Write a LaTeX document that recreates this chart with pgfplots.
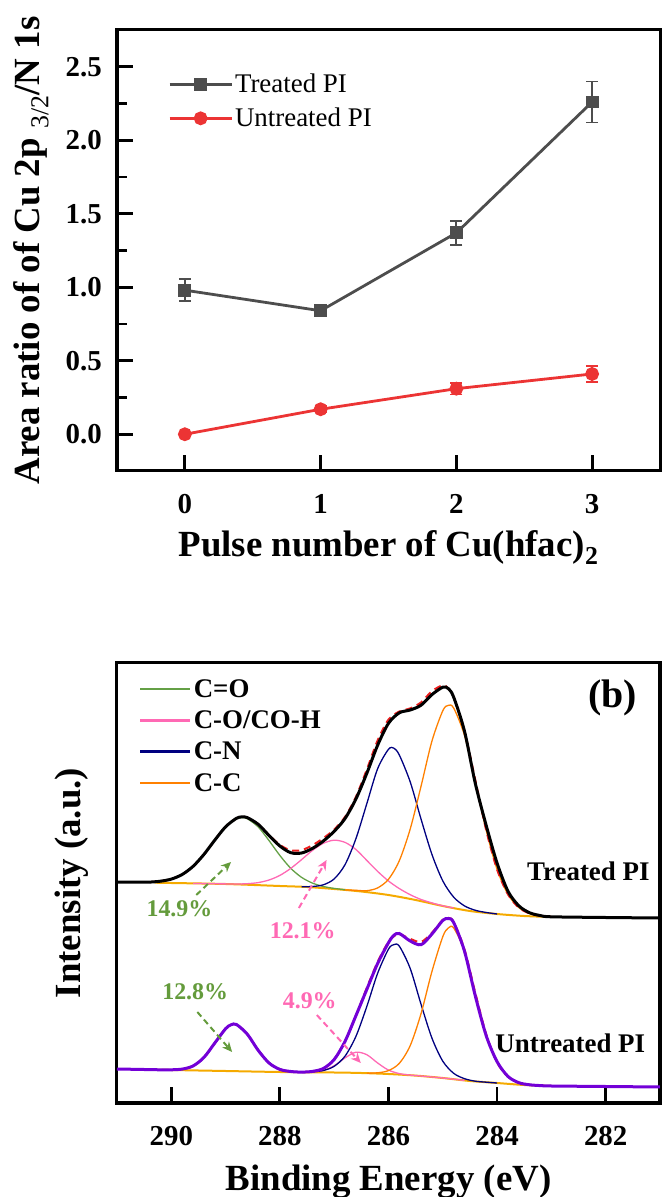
\documentclass[border=0pt]{standalone}
\usepackage{fontspec}
\setmainfont{Liberation Serif}
\usepackage{pgfplots}
\pgfplotsset{compat=1.18}
\usetikzlibrary{arrows.meta}

\definecolor{tgray}{RGB}{77,77,77}
\definecolor{ured}{RGB}{236,52,52}
\definecolor{cgreen}{RGB}{100,160,70}
\definecolor{tgreen}{RGB}{100,155,60}
\definecolor{cpink}{RGB}{255,105,180}
\definecolor{cnavy}{RGB}{0,0,128}
\definecolor{corange}{RGB}{255,128,0}
\definecolor{cbg}{RGB}{245,170,0}
\definecolor{cpurple}{RGB}{115,0,215}
\definecolor{cfit}{RGB}{235,30,30}

\newcommand{\labfont}{\fontsize{37}{40}\selectfont\bfseries}
\newcommand{\tickfont}{\fontsize{29}{29}\selectfont\bfseries}

\pgfplotsset{
  panel/.style={
    scale only axis, width=543bp,
    tick align=inside, xtick pos=left, ytick pos=left,
    major tick length=16bp, minor tick length=10bp,
    tick style={line width=2.8bp, black},
    axis line style={line width=3bp},
    /pgf/number format/assume math mode=true,
    ticklabel style={font=\tickfont},
    xticklabel style={inner sep=0pt, anchor=north, yshift=-23bp},
    label style={font=\labfont},
  }
}

\begin{document}
\begin{tikzpicture}
\path[use as bounding box] (0,0) rectangle (662bp,1197bp);

% ---------- top: area ratio ----------
\begin{axis}[
  panel,
  at={(117bp,726bp)}, anchor=south west, height=441bp,
  xmin=-0.5, xmax=3.5, ymin=-0.25, ymax=2.75,
  xtick={0,1,2,3}, ytick={0,0.5,1,1.5,2,2.5},
  minor ytick={0.25,0.75,1.25,1.75,2.25},
  yticklabel style={/pgf/number format/.cd, fixed, fixed zerofill, precision=1,
    /tikz/.cd, inner sep=0pt, anchor=east, xshift=-15bp},
  xlabel={Pulse number of Cu(hfac)\textsubscript{2}},
  ylabel={Area ratio of of Cu 2p {\mdseries\textsubscript{3/2}}/N 1s},
  xlabel style={at={(axis description cs:0.5,-0.193)}, anchor=base},
  ylabel style={at={(axis description cs:-0.142,0.5)}, anchor=base},
  legend style={at={(axis description cs:0.094,0.905)}, anchor=north west,
    draw=none, fill=none, inner sep=0pt, row sep=10bp,
    font=\fontsize{27}{28}\selectfont,
    nodes={inner sep=2bp}},
  legend cell align=left,
  legend image code/.code={\draw[mark repeat=2,mark phase=2,#1]
    plot coordinates {(0bp,0bp) (31bp,0bp) (62bp,0bp)};},
]
\addplot[color=tgray, line width=2.8bp, mark=square*, mark size=5bp,
  error bars/.cd, y dir=both, y explicit,
  error bar style={line width=1.8bp},
  error mark options={rotate=90, mark size=6bp, line width=1.8bp}]
  coordinates {(0,0.98) +- (0,0.075) (1,0.84) +- (0,0.035)
               (2,1.37) +- (0,0.08) (3,2.26) +- (0,0.14)};
\addplot[color=ured, line width=2.8bp, mark=*, mark size=5.5bp,
  error bars/.cd, y dir=both, y explicit,
  error bar style={line width=1.8bp},
  error mark options={rotate=90, mark size=6bp, line width=1.8bp}]
  coordinates {(0,0.0) +- (0,0.005) (1,0.17) +- (0,0.02)
               (2,0.31) +- (0,0.04) (3,0.41) +- (0,0.055)};
\legend{Treated PI, Untreated PI}
\end{axis}

% ---------- bottom: C 1s spectra ----------
\begin{axis}[
  panel,
  at={(117bp,94bp)}, anchor=south west, height=440bp,
  x dir=reverse, xmin=281, xmax=291, ymin=0, ymax=440,
  xtick={282,284,286,288,290}, ytick=\empty,
  xlabel={Binding Energy (eV)}, ylabel={Intensity (a.u.)},
  xlabel style={at={(axis description cs:0.5,-0.198)}, anchor=base},
  ylabel style={at={(axis description cs:-0.068,0.5)}, anchor=base},
  legend style={at={(axis description cs:0.0405,0.968)}, anchor=north west,
    draw=none, fill=none, inner sep=0pt, row sep=8bp,
    font=\fontsize{27}{28}\selectfont\bfseries,
    nodes={inner sep=2bp}},
  legend cell align=left,
  legend image code/.code={\draw[#1, line width=2.6bp] (0bp,0bp) -- (50bp,0bp);},
]
% treated background
\addplot[cbg, line width=2bp, smooth, forget plot] coordinates {
(290.3,220.3) (290,220) (289,219) (288,217) (287.5,216) (287,214) (286.5,211.5)
(286,208) (285.5,203) (285,197) (284.5,192) (284,189) (283.5,187) (283,186)};
% treated components
\addplot[cgreen, line width=1.3bp, smooth] coordinates {
(290.4,220.9) (290.2,221.8) (290.0,223.9) (289.8,228.5) (289.6,236.6) (289.4,248.5)
(289.2,262.8) (289.0,276.2) (288.8,284.3) (288.7,285.4) (288.6,284.3) (288.4,276.1)
(288.2,262.4) (288.0,247.5) (287.8,234.7) (287.6,225.6) (287.4,219.9) (287.2,216.5)
(287.0,214.6) (286.8,213.3)};
\addlegendentry{C=O}
\addplot[cpink, line width=1.3bp, smooth] coordinates {
(289.6,219.6) (289.2,219.2) (289.0,219.1) (288.8,219.0) (288.6,219.3) (288.4,220.4)
(288.2,223.0) (288.0,227.6) (287.8,234.6) (287.6,243.4) (287.4,252.6) (287.2,259.7)
(287.0,262.8) (286.8,260.6) (286.6,253.5) (286.4,242.6) (286.2,231.6) (286.0,222.0)
(285.8,214.4) (285.6,208.3) (285.4,203.5) (285.2,200.1) (285.0,197.2) (284.8,195.0)};
\addlegendentry{C-O/CO-H}
\addplot[cnavy, line width=1.3bp, smooth] coordinates {
(287.6,216.3) (287.4,216.5) (287.2,218.2) (287.0,224.1) (286.8,238.4) (286.6,264.3)
(286.4,299.2) (286.2,334.3) (286.0,353.7) (285.9,354.8) (285.8,347.9) (285.6,321.1)
(285.4,283.8) (285.2,248.6) (285.0,222.1) (284.8,205.9) (284.6,197.1) (284.4,192.7)
(284.2,190.5) (284.0,189.0)};
\addlegendentry{C-N}
\addplot[corange, line width=1.3bp, smooth] coordinates {
(286.8,213.1) (286.6,212.7) (286.4,212.3) (286.2,215.1) (286.0,223.7) (285.8,242.4)
(285.6,274.0) (285.4,316.9) (285.2,361.9) (285.0,392.3) (284.9,397.6) (284.8,395.0)
(284.6,367.6) (284.4,321.3) (284.2,272.5) (284.0,233.5) (283.8,208.7) (283.6,195.4)
(283.4,189.5) (283.2,187.2) (283.0,186.2)};
\addlegendentry{C-C}
% treated fit
\addplot[cfit, line width=2bp, dash pattern=on 7bp off 5bp, smooth, forget plot] coordinates {
(290.4,220.9) (290.2,221.8) (290.0,223.9) (289.8,228.5) (289.6,236.6) (289.4,248.5)
(289.2,262.8) (289.0,276.2) (288.8,284.7) (288.7,286.1) (288.6,285.4) (288.4,278.7)
(288.2,268.0) (288.0,258.1) (287.8,252.7) (287.6,252.9) (287.4,257.8) (287.2,264.8)
(287.0,273.5) (286.8,286.1) (286.6,306.1) (286.4,333.3) (286.2,362.6) (286.0,383.4)
(285.8,391.5) (285.6,394.6) (285.4,400.6) (285.2,411.8) (285.0,417.7) (284.9,414.5)
(284.8,405.9) (284.6,371.7) (284.4,322.6) (284.2,272.8) (284.0,233.5) (283.8,208.7)
(283.6,195.4) (283.4,189.5) (283.2,187.2) (283.0,186.2)};
% treated data
\addplot[black, line width=3bp, smooth, forget plot] coordinates {
(291.0,221.0) (290.6,220.8) (290.4,220.9) (290.2,221.8) (290.0,223.9) (289.8,228.5)
(289.6,236.6) (289.4,248.5) (289.2,262.8) (289.0,276.2) (288.8,284.7) (288.7,286.1)
(288.6,285.4) (288.4,278.7) (288.2,267.5) (288.0,257.0) (287.8,250.3) (287.6,250.0)
(287.4,254.6) (287.2,262.0) (287.0,271.7) (286.8,284.5) (286.6,304.0) (286.4,329.6)
(286.2,357.8) (286.0,379.7) (285.8,390.2) (285.6,393.0) (285.4,397.8) (285.2,408.4)
(285.0,415.8) (284.9,414.5) (284.8,405.9) (284.6,371.7) (284.4,319.3) (284.2,277.4)
(284.0,239.8) (283.8,211.8) (283.6,197.2) (283.4,190.2) (283.2,187.4) (283.0,186.2)
(282.0,185.5) (281.0,185.0)};

% untreated background
\addplot[cbg, line width=2bp, smooth, forget plot] coordinates {
(290.4,33.4) (290,33) (289,32) (288,31) (287,30.5) (286.5,30) (286,29)
(285.5,27.4) (285,25) (284.5,22) (284,20) (283.5,18) (283,17)};
% untreated components
\addplot[cgreen, line width=1.3bp, smooth, forget plot] coordinates {
(290.2,33.2) (290.0,33.2) (289.8,33.9) (289.6,37.0) (289.4,45.5) (289.2,59.9)
(289.0,74.3) (288.9,78.2) (288.8,78.5) (288.6,68.8) (288.4,52.7) (288.2,40.0)
(288.0,33.6) (287.8,31.5) (287.6,30.9)};
\addplot[cpink, line width=1.3bp, smooth, forget plot] coordinates {
(287.8,30.9) (287.6,30.8) (287.4,31.1) (287.2,32.6) (287.0,37.3) (286.8,45.1)
(286.6,50.8) (286.4,48.3) (286.2,40.0) (286.0,32.9) (285.8,29.4) (285.6,27.9)
(285.4,27.0) (285.0,25.0) (284.6,22.6)};
\addplot[cnavy, line width=1.3bp, smooth, forget plot] coordinates {
(287.6,30.8) (287.4,31.2) (287.2,32.5) (287.0,36.7) (286.8,46.9) (286.6,66.6)
(286.4,96.4) (286.2,129.7) (286.0,153.9) (285.9,158.4) (285.8,156.8) (285.6,134.5)
(285.4,98.6) (285.2,64.9) (285.0,41.8) (284.8,29.7) (284.6,24.3) (284.4,21.8)
(284.2,20.8) (284.0,20.0)};
\addplot[corange, line width=1.3bp, smooth, forget plot] coordinates {
(286.4,29.8) (286.2,30.2) (286.0,32.4) (285.8,39.7) (285.6,57.4) (285.4,89.5)
(285.2,131.5) (285.0,166.4) (284.9,174.9) (284.8,175.1) (284.6,151.7) (284.4,109.3)
(284.2,68.4) (284.0,40.6) (283.8,26.3) (283.6,20.3) (283.4,18.2) (283.2,17.4)};
% untreated fit
\addplot[cfit, line width=2bp, dash pattern=on 7bp off 5bp, smooth, forget plot] coordinates {
(290.4,33.4) (290.2,33.2) (290.0,33.2) (289.8,33.9) (289.6,37.0) (289.4,45.5)
(289.2,59.9) (289.0,74.3) (288.9,78.2) (288.8,78.5) (288.6,68.8) (288.4,52.7)
(288.2,40.0) (288.0,33.6) (287.8,31.5) (287.6,30.9) (287.4,31.6) (287.2,34.5)
(287.0,43.5) (286.8,61.7) (286.6,87.3) (286.4,114.9) (286.2,141.1) (286.0,161.2)
(285.9,166.7) (285.8,168.9) (285.6,164.2) (285.4,161.1) (285.2,170.2) (285.0,183.2)
(284.9,185.1) (284.8,181.0) (284.6,153.4) (284.4,109.7) (284.2,68.4) (284.0,40.6)
(283.8,26.3) (283.6,20.3) (283.4,18.2) (283.2,17.4) (283.0,17.0)};
% untreated data
\addplot[cpurple, line width=3bp, smooth, forget plot] coordinates {
(291.0,34.0) (290.6,33.6) (290.4,33.4) (290.2,33.2) (290.0,33.2) (289.8,33.9)
(289.6,37.0) (289.4,45.5) (289.2,59.9) (289.0,74.3) (288.9,78.2) (288.8,78.5)
(288.6,68.8) (288.4,52.7) (288.2,40.0) (288.0,33.6) (287.8,31.5) (287.6,30.9)
(287.4,31.6) (287.2,34.5) (287.0,43.5) (286.8,61.7) (286.6,87.3) (286.4,113.5)
(286.2,139.5) (286.0,160.3) (285.9,167.8) (285.8,169.5) (285.6,162.0) (285.4,158.3)
(285.2,169.0) (285.0,182.6) (284.9,184.5) (284.8,180.5) (284.6,151.7) (284.4,106.8)
(284.2,67.2) (284.0,41.3) (283.8,26.6) (283.6,20.3) (283.4,18.2) (283.2,17.4)
(283.0,17.0) (282.0,16.5) (281.0,16.0)};

% annotations
\draw[tgreen, line width=2bp, dash pattern=on 6bp off 4bp, -{Stealth[length=10bp,width=9bp]}]
  (axis cs:289.54,208) -- (axis cs:288.90,241);
\draw[cpink, line width=2bp, dash pattern=on 6bp off 4bp, -{Stealth[length=10bp,width=9bp]}]
  (axis cs:287.65,195) -- (axis cs:287.14,243);
\draw[tgreen, line width=2bp, dash pattern=on 6bp off 4bp, -{Stealth[length=10bp,width=9bp]}]
  (axis cs:289.52,91) -- (axis cs:288.88,51);
\draw[cpink, line width=2bp, dash pattern=on 6bp off 4bp, -{Stealth[length=10bp,width=9bp]}]
  (axis cs:287.32,88) -- (axis cs:286.51,40);
\node[text=tgreen, font=\fontsize{24}{24}\selectfont\bfseries] at (axis cs:289.85,194) {14.9\%};
\node[text=cpink, font=\fontsize{24}{24}\selectfont\bfseries] at (axis cs:287.58,172) {12.1\%};
\node[text=tgreen, font=\fontsize{24}{24}\selectfont\bfseries] at (axis cs:289.56,111) {12.8\%};
\node[text=cpink, font=\fontsize{24}{24}\selectfont\bfseries] at (axis cs:287.45,102) {4.9\%};
\node[anchor=base east, inner sep=0pt, font=\fontsize{27}{27}\selectfont\bfseries] at (axis cs:281.19,223) {Treated PI};
\node[anchor=base east, inner sep=0pt, font=\fontsize{27}{27}\selectfont\bfseries] at (axis cs:281.27,51) {Untreated PI};
\node[font=\fontsize{40}{40}\selectfont\bfseries] at (axis cs:281.87,405) {(b)};
\end{axis}
\end{tikzpicture}
\end{document}
